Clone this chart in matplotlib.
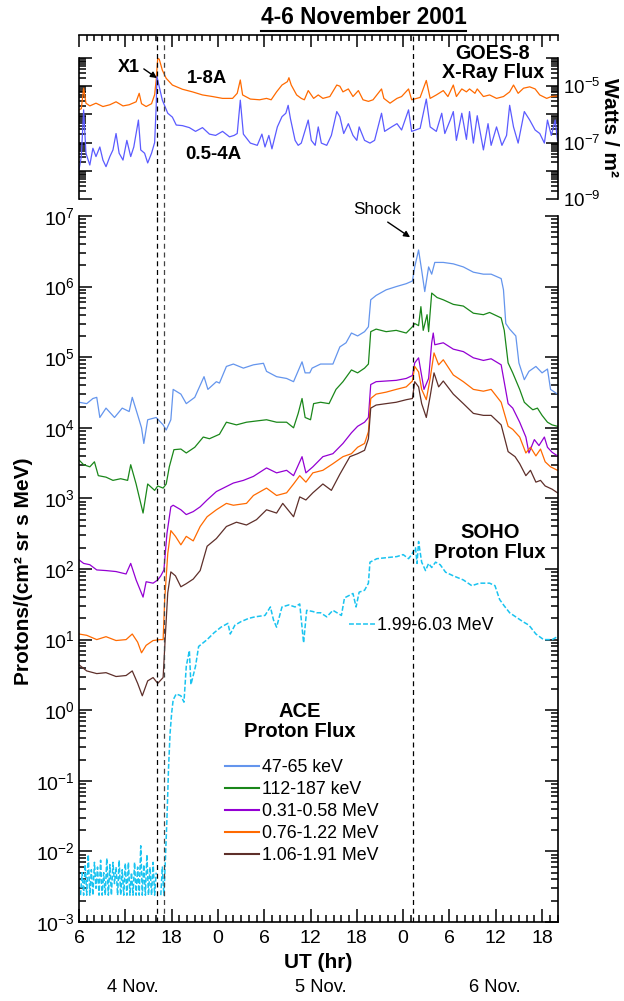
import numpy as np
import matplotlib
matplotlib.use("Agg")
import matplotlib.pyplot as plt
from matplotlib.ticker import FixedLocator, MultipleLocator, NullFormatter
from matplotlib.lines import Line2D

plt.rcParams['font.family'] = ['Liberation Sans', 'DejaVu Sans']
plt.rcParams['mathtext.default'] = 'regular'
plt.rcParams['axes.unicode_minus'] = False

# ---------------------------------------------------------------------------
# Time is in hours since 2001-11-04 00:00 UT
# ---------------------------------------------------------------------------
flare_times = [16.05, 17.0]     # X1 flare onset / peak
shock_time = 49.3               # shock arrival at ACE

# GOES-8 X-ray flux, 1-8 A channel (W/m^2)
goes_long_t = [6.0, 6.3, 6.6, 6.9, 7.4, 8.2, 9.1, 10.0, 10.8, 11.7, 12.5, 13.4, 13.8, 14.1,
               14.7, 15.4, 15.8, 16.0, 16.2, 16.4, 16.8, 17.3, 18.1, 19.4, 20.7, 22.0, 23.3,
               24.6, 25.9, 26.5, 26.9, 27.2, 28.2, 29.4, 30.3, 30.9, 31.6, 32.3, 33.0, 33.2,
               33.5, 34.2, 34.8, 35.2, 35.7, 36.4, 37.0, 37.6, 38.5, 39.4, 39.8, 40.2, 40.9,
               41.5, 42.2, 42.8, 43.5, 44.1, 45.2, 45.5, 46.3, 47.2, 47.8, 48.7, 49.1, 50.2,
               51.0, 51.5, 52.3, 53.2, 53.8, 54.5, 54.9, 55.6, 56.2, 56.6, 57.3, 57.6, 58.4,
               59.2, 60.1, 61.0, 61.8, 62.3, 62.9, 63.6, 64.4, 65.1, 65.7, 66.6, 67.2, 68.0]
goes_long = [1.45e-6, 1.6e-6, 8.5e-6, 2.5e-6, 2.0e-6, 2.5e-6, 1.9e-6, 2.2e-6, 2.8e-6, 2.0e-6,
             2.2e-6, 2.8e-6, 5.6e-6, 2.4e-6, 1.9e-6, 2.4e-6, 5.0e-6, 1.66e-5, 9.8e-5, 9.0e-5,
             3.7e-5, 1.9e-5, 1.1e-5, 7.8e-6, 6.3e-6, 4.9e-6, 4.3e-6, 3.7e-6, 3.7e-6, 5.6e-6,
             1.66e-5, 4.9e-6, 3.5e-6, 3.3e-6, 3.7e-6, 3.3e-6, 6.3e-6, 1.1e-5, 1.45e-5, 2.0e-5,
             1.1e-5, 4.9e-6, 3.7e-6, 3.3e-6, 7.0e-6, 3.7e-6, 4.9e-6, 3.7e-6, 4.3e-6, 1.1e-5,
             1.0e-5, 6.3e-6, 8.0e-6, 4.3e-6, 7.0e-6, 3.3e-6, 2.9e-6, 3.3e-6, 8.0e-6, 3.7e-6,
             2.5e-6, 3.7e-6, 4.3e-6, 8.0e-6, 3.3e-6, 4.0e-6, 1.6e-5, 3.7e-6, 4.9e-6, 7.0e-6,
             4.3e-6, 1.1e-5, 4.3e-6, 8.0e-6, 6.3e-6, 8.0e-6, 5.6e-6, 8.0e-6, 4.3e-6, 4.9e-6,
             3.7e-6, 4.3e-6, 6.3e-6, 1.1e-5, 5.6e-6, 8.5e-6, 9.5e-6, 8.0e-6, 4.9e-6, 3.7e-6,
             4.3e-6, 4.5e-6]

# GOES-8 X-ray flux, 0.5-4 A channel (W/m^2)
goes_short_t = [6.0, 6.3, 6.6, 6.9, 7.4, 7.8, 8.2, 8.7, 9.1, 9.5, 10.0, 10.4, 10.8, 11.2, 11.7,
                12.2, 12.7, 13.1, 13.7, 14.0, 14.5, 14.9, 15.4, 15.8, 16.0, 16.1, 16.4, 16.8,
                17.5, 18.1, 18.6, 19.4, 20.3, 21.1, 22.0, 22.9, 23.7, 24.6, 25.5, 26.1, 26.5,
                26.9, 27.3, 28.2, 29.1, 29.7, 30.1, 30.6, 31.0, 31.7, 32.3, 32.8, 33.1, 33.4,
                34.0, 34.4, 34.8, 35.7, 36.1, 36.6, 37.0, 37.4, 38.1, 38.7, 39.4, 39.8, 40.3,
                40.9, 41.5, 42.0, 42.3, 43.0, 43.7, 44.3, 45.2, 45.6, 46.5, 47.2, 47.8, 48.7,
                49.1, 50.2, 51.0, 51.5, 52.3, 53.0, 53.4, 54.1, 54.5, 54.9, 55.6, 56.2, 56.6,
                57.1, 57.6, 58.4, 59.0, 59.4, 60.1, 60.8, 61.4, 61.8, 62.3, 62.9, 63.7, 64.4,
                65.1, 65.7, 66.3, 66.7, 67.2, 67.7, 68.0]
goes_short = [1.07e-8, 3.2e-8, 1.45e-6, 4.2e-8, 1.6e-8, 6.3e-8, 3.2e-8, 7.0e-8, 2.4e-8, 1.4e-8,
              3.2e-8, 5.5e-8, 2.1e-7, 4.2e-8, 2.4e-8, 1.2e-7, 3.2e-8, 7.0e-8, 6.3e-7, 5.5e-8,
              4.2e-8, 1.9e-8, 4.2e-8, 1.0e-7, 1.9e-6, 2.2e-5, 9.5e-6, 3.2e-6, 1.1e-6, 8.0e-7,
              4.2e-7, 4.0e-7, 3.4e-7, 2.5e-7, 3.4e-7, 2.0e-7, 1.8e-7, 2.5e-7, 1.6e-7, 1.8e-7,
              2.1e-7, 3.2e-6, 2.0e-7, 9.6e-8, 8.0e-8, 2.0e-7, 7.0e-8, 1.8e-7, 6.0e-8, 3.6e-7,
              8.3e-7, 1.1e-6, 2.1e-6, 7.0e-7, 1.2e-7, 8.0e-8, 9.6e-8, 6.3e-7, 1.2e-7, 8.0e-8,
              3.6e-7, 9.6e-8, 8.0e-8, 1.8e-7, 1.26e-6, 8.3e-7, 2.1e-7, 4.7e-7, 1.8e-7, 1.2e-7,
              3.6e-7, 1.2e-7, 9.6e-8, 1.2e-7, 1.1e-6, 2.5e-7, 3.6e-7, 4.7e-7, 2.8e-7, 1.45e-6,
              2.5e-7, 3.2e-7, 3.5e-6, 3.6e-7, 2.5e-7, 1.1e-6, 2.1e-7, 6.3e-7, 1.26e-6, 1.2e-7,
              1.1e-6, 1.3e-7, 1.26e-6, 9.6e-8, 9.0e-7, 5.5e-8, 4.7e-7, 8.0e-8, 3.6e-7, 8.0e-8,
              1.8e-7, 2.1e-6, 3.6e-7, 9.6e-8, 1.26e-6, 6.3e-7, 2.8e-7, 2.1e-7, 9.6e-8, 6.3e-7,
              1.8e-7, 6.3e-7, 1.2e-7]

# ACE/EPAM proton channels, protons/(cm^2 sr s MeV)
p1_t = [6.0, 7.0, 7.8, 8.3, 8.7, 9.5, 10.6, 11.6, 12.5, 12.9, 13.7, 14.1, 14.4, 14.9, 16.0,
        16.9, 17.3, 17.9, 18.2, 19.2, 19.9, 21.0, 22.2, 22.7, 23.8, 24.2, 25.1, 26.0, 27.3,
        28.6, 29.9, 30.3, 31.6, 32.9, 33.8, 34.9, 35.3, 35.9, 36.2, 37.3, 38.9, 39.8, 40.6,
        41.3, 42.1, 43.0, 43.5, 43.8, 44.5, 45.8, 47.1, 48.4, 49.2, 49.5, 50.0, 50.4, 50.8,
        51.3, 51.7, 52.1, 53.2, 54.5, 55.8, 57.1, 58.4, 59.4, 60.7, 61.0, 61.3, 61.8, 62.6,
        63.0, 63.7, 64.3, 65.2, 66.0, 66.7, 67.1, 68.0]
p1_v = [2.3e4, 2.2e4, 2.6e4, 2.7e4, 1.4e4, 1.9e4, 1.4e4, 1.9e4, 1.7e4, 2.7e4, 1.4e4, 1.0e4,
        6.0e3, 1.3e4, 1.4e4, 1.1e4, 9.3e3, 1.3e4, 3.5e4, 3.0e4, 2.2e4, 2.7e4, 5.3e4, 3.5e4,
        4.5e4, 4.3e4, 7.4e4, 8.0e4, 7.0e4, 7.8e4, 8.2e4, 6.3e4, 5.3e4, 5.0e4, 4.5e4, 8.6e4,
        6.0e4, 6.0e4, 7.0e4, 8.0e4, 8.0e4, 1.4e5, 1.6e5, 2.2e5, 2.0e5, 2.3e5, 2.7e5, 6.5e5,
        7.5e5, 9.0e5, 1.0e6, 1.1e6, 1.2e6, 1.9e6, 3.3e6, 1.7e6, 8.5e5, 1.9e6, 1.5e6, 2.2e6,
        2.2e6, 2.1e6, 1.9e6, 1.6e6, 1.5e6, 1.5e6, 1.3e6, 9.0e5, 3.0e5, 2.5e5, 2.0e5, 8.3e4,
        4.8e4, 6.3e4, 7.4e4, 6.0e4, 6.8e4, 3.5e4, 3.0e4]

p2_t = [6.0, 6.6, 7.4, 8.0, 8.5, 9.5, 10.4, 11.4, 12.3, 12.7, 13.4, 13.8, 14.3, 14.9, 15.8,
        16.2, 16.9, 17.3, 17.7, 18.3, 19.2, 19.9, 21.0, 22.1, 22.9, 24.2, 25.1, 26.4, 27.7,
        29.0, 30.3, 31.6, 32.9, 33.8, 34.4, 34.9, 35.3, 36.0, 36.4, 37.3, 38.4, 39.3, 40.2,
        41.3, 42.1, 43.0, 43.5, 43.8, 44.5, 45.8, 47.1, 48.4, 49.2, 49.5, 50.0, 50.3, 50.6,
        51.1, 51.3, 51.7, 52.4, 53.2, 54.5, 55.8, 57.1, 58.4, 59.2, 60.7, 61.1, 61.6, 62.2,
        63.1, 63.7, 64.3, 64.8, 65.4, 66.0, 66.7, 67.3, 68.0]
p2_v = [3.5e3, 3.0e3, 2.8e3, 3.3e3, 2.1e3, 2.0e3, 1.8e3, 1.9e3, 1.8e3, 3.0e3, 1.6e3, 1.05e3,
        6.2e2, 1.6e3, 1.3e3, 1.5e3, 1.4e3, 1.6e3, 2.8e3, 4.9e3, 5.0e3, 4.4e3, 5.3e3, 7.4e3,
        7.0e3, 8.1e3, 1.2e4, 1.1e4, 1.2e4, 1.25e4, 1.3e4, 1.2e4, 1.2e4, 1.0e4, 1.6e4, 2.6e4,
        1.4e4, 1.3e4, 2.2e4, 2.3e4, 2.2e4, 3.5e4, 4.5e4, 6.6e4, 6.0e4, 7.0e4, 8.0e4, 2.3e5,
        2.5e5, 2.3e5, 2.4e5, 2.2e5, 2.7e5, 3.0e5, 2.8e5, 5.2e5, 2.4e5, 4.0e5, 2.3e5, 8.1e5,
        7.0e5, 6.5e5, 5.6e5, 5.3e5, 4.2e5, 4.0e5, 4.3e5, 3.6e5, 2.4e5, 8.3e4, 6.0e4, 3.5e4,
        2.3e4, 2.0e4, 1.8e4, 1.9e4, 1.5e4, 1.2e4, 1.1e4, 1.05e4]

p3_t = [6.0, 6.6, 7.4, 8.3, 9.5, 10.8, 12.1, 12.7, 13.4, 14.3, 14.7, 15.6, 16.2, 16.6, 17.0,
        17.4, 17.9, 18.2, 19.2, 19.9, 20.8, 21.7, 22.6, 23.8, 26.0, 27.3, 28.6, 30.3, 31.6,
        32.9, 33.8, 34.9, 35.4, 36.3, 37.6, 38.9, 40.2, 41.3, 42.1, 43.0, 43.5, 43.8, 44.5,
        45.8, 47.1, 48.4, 49.2, 49.5, 50.0, 50.3, 50.7, 51.3, 51.7, 51.9, 52.1, 53.2, 54.5,
        55.8, 57.1, 58.4, 59.4, 60.7, 61.6, 62.2, 63.1, 63.9, 64.3, 65.0, 65.6, 66.3, 66.7,
        67.3, 68.0]
p3_v = [135, 120, 115, 97, 95, 92, 85, 120, 70, 40, 66, 63, 70, 80, 97, 320, 760, 800, 690,
        590, 650, 760, 950, 1.25e3, 1.65e3, 1.8e3, 2.05e3, 2.7e3, 2.3e3, 2.5e3, 2.1e3, 3.9e3,
        2.3e3, 2.8e3, 3.9e3, 4.3e3, 6.0e3, 8.5e3, 1.05e4, 1.2e4, 1.4e4, 4.1e4, 4.5e4, 4.6e4,
        4.7e4, 5.0e4, 5.5e4, 8.3e4, 9.8e4, 6.3e4, 3.5e4, 5.0e4, 1.6e5, 2.2e5, 1.5e5, 1.6e5,
        1.3e5, 1.2e5, 9.8e4, 9.0e4, 9.5e4, 7.8e4, 2.2e4, 1.9e4, 1.2e4, 7.4e3, 4.4e3, 6.8e3,
        5.6e3, 7.4e3, 5.3e3, 4.5e3, 4.0e3]

p4_t = [6.0, 7.0, 8.3, 9.5, 10.8, 12.1, 12.9, 13.6, 14.1, 14.7, 15.6, 16.5, 16.9, 17.1, 17.5,
        17.9, 18.5, 19.2, 19.9, 20.8, 21.7, 22.6, 23.8, 25.1, 26.0, 27.7, 28.6, 30.3, 31.6,
        32.9, 33.8, 34.6, 35.4, 36.3, 37.6, 38.9, 40.2, 41.3, 42.1, 43.0, 43.5, 43.8, 44.5,
        45.8, 47.1, 48.4, 49.2, 49.5, 50.0, 50.4, 51.0, 51.5, 52.0, 52.6, 53.2, 54.5, 55.8,
        57.1, 58.4, 59.4, 60.7, 61.6, 62.2, 63.1, 63.9, 64.5, 65.2, 65.8, 66.4, 67.1, 68.0]
p4_v = [12, 11.5, 10, 11, 9.7, 10, 12, 9.2, 6.5, 8.3, 9.7, 10, 10, 36, 165, 350, 290, 220,
        290, 250, 400, 550, 690, 850, 800, 850, 1.1e3, 1.4e3, 1.1e3, 1.2e3, 1.6e3, 2.1e3,
        1.7e3, 2.3e3, 2.5e3, 3.1e3, 3.9e3, 4.3e3, 5.3e3, 6.0e3, 8.8e3, 2.6e4, 3.0e4, 3.2e4,
        3.5e4, 3.8e4, 4.6e4, 7.4e4, 6.2e4, 3.5e4, 2.5e4, 5.0e4, 1.15e5, 7.8e4, 9.2e4, 5.6e4,
        4.5e4, 3.5e4, 3.3e4, 3.5e4, 2.3e4, 1.05e4, 9.5e3, 7.4e3, 4.4e3, 5.3e3, 4.0e3, 5.0e3,
        3.3e3, 2.8e3, 2.5e3]

p5_t = [6.0, 7.0, 8.3, 9.5, 10.8, 12.1, 12.9, 13.6, 14.2, 14.9, 15.6, 16.2, 16.9, 17.2, 17.5,
        17.9, 18.5, 19.2, 19.9, 20.8, 21.7, 22.6, 23.8, 25.1, 26.4, 27.7, 29.0, 30.3, 31.6,
        32.4, 33.8, 34.6, 35.4, 36.3, 37.6, 38.7, 39.8, 41.1, 42.1, 43.0, 43.5, 43.8, 44.5,
        45.8, 47.1, 48.4, 49.2, 49.5, 50.0, 50.4, 51.0, 51.5, 52.0, 52.6, 53.2, 54.5, 55.8,
        57.1, 58.4, 59.4, 60.7, 61.6, 62.5, 63.1, 63.9, 64.5, 65.2, 65.8, 66.4, 67.3, 68.0]
p5_v = [4.4, 3.6, 3.3, 3.4, 3.0, 3.1, 3.6, 2.4, 1.6, 2.6, 2.9, 2.4, 2.9, 12, 46, 91, 80, 56,
        62, 72, 95, 210, 270, 400, 460, 420, 500, 690, 620, 850, 550, 1.05e3, 950, 1.2e3,
        1.6e3, 1.3e3, 2.2e3, 3.9e3, 4.3e3, 4.8e3, 7.0e3, 1.9e4, 2.1e4, 2.2e4, 2.3e4, 2.5e4,
        2.6e4, 4.5e4, 3.8e4, 2.2e4, 1.4e4, 2.8e4, 6.0e4, 3.8e4, 4.6e4, 3.0e4, 2.2e4, 1.6e4,
        1.5e4, 1.5e4, 1.1e4, 4.6e3, 3.9e3, 3.1e3, 2.1e3, 2.5e3, 1.7e3, 1.8e3, 1.5e3, 1.35e3,
        1.2e3]

# SOHO/ERNE proton channel 1.99-6.03 MeV (nan marks a data gap)
soho_t = [6.2, 6.4, 6.6, 6.8, 7.0, 7.2, 7.4, 7.6, 7.8, 8.0, 8.2, 8.4, 8.6, 8.8, 9.0, 9.2, 9.4,
          9.6, 9.8, 10.0, 10.2, 10.4, 10.6, 10.8, 11.0, 11.2, 11.4, 11.6, 11.8, 12.0, 12.2,
          12.4, 12.6, 12.8, 13.0, 13.2, 13.4, 13.6, 13.8, 14.0, 14.2, 14.4, 14.6, 14.8, 15.0,
          15.2, 15.4, 15.6, 15.8, 16.0, 16.3, 16.6, 16.8, 17.0, 17.2, 17.4, 17.6, 17.8, 18.0,
          18.2, 18.6, 19.2, 19.6, 19.9, 20.3, 20.5, 21.1, 21.5, 22.6, 23.5, 24.4, 25.3, 25.6,
          26.2, 27.0, 28.0, 28.8, 30.1, 30.8, 31.2, 31.6, 32.3, 33.2, 34.0, 34.6, 35.1, 35.5,
          36.3, 36.8, 37.3, 38.1, 38.9, 40.0, 40.4, 41.5, 41.9, 42.3, 43.0, 43.5, 43.7, 44.6,
          45.9, 47.2, 48.0, 48.7, 49.1, 49.6, 49.8, 50.0, 50.4, 50.9, 51.3, 51.7, 52.2, 52.8,
          53.5, 54.5, 55.8, 56.9, 57.9, 59.2, 59.9, 60.5, 61.1, 61.8, 62.6, 63.5, 64.3, 65.2,
          66.2, 67.3, 68.0]
soho_v = [2.4e-3, 5.0e-3, 2.4e-3, 6.5e-3, 2.4e-3, 9.0e-3, 2.4e-3, 5.5e-3, 2.4e-3, 7.0e-3,
          3.0e-3, 6.0e-3, 2.4e-3, 7.5e-3, 2.4e-3, 5.0e-3, 2.4e-3, 8.0e-3, 2.4e-3, 6.5e-3,
          2.4e-3, 7.0e-3, 3.5e-3, 6.0e-3, 2.4e-3, 7.5e-3, 2.4e-3, 5.5e-3, 2.4e-3, 6.8e-3,
          2.4e-3, 7.0e-3, 2.4e-3, 5.0e-3, 2.4e-3, 7.0e-3, 2.4e-3, 6.0e-3, 2.4e-3, 1.2e-2,
          2.4e-3, 6.5e-3, 2.4e-3, 9.0e-3, 2.4e-3, 6.0e-3, 2.4e-3, 7.0e-3, 2.4e-3, 5.0e-3,
          np.nan, 2.4e-3, 6.0e-3, 2.4e-3, 8.0e-3, 3.0e-2, 0.15, 0.47, 0.9,
          1.4, 1.7, 1.6, 1.3, 4.2, 7.0, 2.3, 4.2, 8.0, 10, 12.5, 15, 17, 12,
          16, 18, 20, 21, 22, 29, 19, 15, 29, 31, 29, 32, 9, 26,
          25, 24, 24, 21, 26, 22, 39, 45, 29, 47, 50, 63, 125, 140,
          145, 150, 160, 140, 160, 200, 120, 245, 125, 95, 120, 105, 125, 115,
          90, 80, 70, 58, 63, 63, 58, 37, 30, 24, 21, 18, 16, 12,
          10, 10, 11]

ace_labels = ['47-65 keV', '112-187 keV', '0.31-0.58 MeV', '0.76-1.22 MeV', '1.06-1.91 MeV']
ace_colors = ['#6495ed', '#1a871a', '#9400d3', '#ff6a00', '#5e2f2a']
soho_label = '1.99-6.03 MeV'
soho_color = '#19c3f0'
goes_colors = ['#ff6a00', '#5b5bff']

day_labels = ['4 Nov.', '5 Nov.', '6 Nov.']
day_label_pos = [13.0, 37.3, 59.9]
hour_ticks = list(range(6, 69, 6))
hour_labels = [str(h % 24) for h in hour_ticks]

# ---------------------------------------------------------------------------
W, H = 624, 1001
fig = plt.figure(figsize=(W / 100, H / 100), dpi=100)


def fx(px):
    return px / W


def fy(py):
    return 1 - py / H


XL, XR = 79, 557.5
ax_top = fig.add_axes([fx(XL), fy(216), fx(XR) - fx(XL), fy(35) - fy(216)])
ax = fig.add_axes([fx(XL), fy(922), fx(XR) - fx(XL), fy(216) - fy(922)])

tick_kw = dict(direction='in', colors='black', width=1.1)

# ---------------- GOES panel ----------------
ax_top.plot(goes_long_t, goes_long, color=goes_colors[0], lw=0.9)
ax_top.plot(goes_short_t, goes_short, color=goes_colors[1], lw=0.9)
ax_top.set_yscale('log')
ax_top.set_xlim(6, 68)
ax_top.set_ylim(10 ** -9.603, 10 ** -3.184)
ax_top.spines['bottom'].set_visible(False)
for s in ['left', 'right']:
    ax_top.spines[s].set_bounds(1e-9, 1e-4)
for s in ax_top.spines.values():
    s.set_linewidth(1.2)
decades = [10.0 ** e for e in range(-9, -3)]
minors = [m * 10.0 ** e for e in range(-9, -4) for m in range(2, 10)]
ax_top.yaxis.set_major_locator(FixedLocator(decades))
ax_top.yaxis.set_minor_locator(FixedLocator(minors))
ax_top.yaxis.set_minor_formatter(NullFormatter())
ax_top.set_yticklabels([r'$\mathdefault{10^{-9}}$', '', r'$\mathdefault{10^{-7}}$', '',
                        r'$\mathdefault{10^{-5}}$', ''])
ax_top.tick_params(axis='y', which='both', left=True, right=True, labelleft=False,
                   labelright=True, labelsize=13.5, pad=4, **tick_kw)
ax_top.tick_params(axis='y', which='major', length=9)
ax_top.tick_params(axis='y', which='minor', length=5)
ax_top.xaxis.set_major_locator(MultipleLocator(6))
ax_top.xaxis.set_minor_locator(MultipleLocator(1))
ax_top.tick_params(axis='x', which='both', top=True, bottom=False, labeltop=False,
                   labelbottom=False, **tick_kw)
ax_top.tick_params(axis='x', which='major', length=8.5)
ax_top.tick_params(axis='x', which='minor', length=4.5)
ax_top.patch.set_visible(False)

# ---------------- ACE / SOHO panel ----------------
ace_series = [(p1_t, p1_v), (p2_t, p2_v), (p3_t, p3_v), (p4_t, p4_v), (p5_t, p5_v)]
ace_lines = []
for (t, v), c, lab in zip(ace_series, ace_colors, ace_labels):
    ln, = ax.plot(t, v, color=c, lw=0.9, label=lab)
    ace_lines.append(ln)
soho_line, = ax.plot(soho_t, soho_v, color=soho_color, lw=1.1, dashes=(3.2, 1.4),
                     label=soho_label)

ax.set_yscale('log')
ax.set_xlim(6, 68)
ax.set_ylim(1e-3, 1e7)
ax.spines['top'].set_visible(False)
for s in ax.spines.values():
    s.set_linewidth(1.2)
ax.yaxis.set_major_locator(FixedLocator([10.0 ** e for e in range(-3, 8)]))
ax.yaxis.set_minor_locator(FixedLocator([m * 10.0 ** e for e in range(-3, 7) for m in range(2, 10)]))
ax.yaxis.set_minor_formatter(NullFormatter())
ax.set_yticklabels([r'$\mathdefault{10^{%d}}$' % e for e in range(-3, 8)])
ax.tick_params(axis='y', which='both', left=True, right=True, labelsize=14, pad=3, **tick_kw)
ax.tick_params(axis='y', which='major', length=9.5)
ax.tick_params(axis='y', which='minor', length=5)
ax.set_xticks(hour_ticks)
ax.set_xticklabels(hour_labels)
ax.xaxis.set_minor_locator(MultipleLocator(1))
ax.tick_params(axis='x', which='both', top=False, bottom=True, labelsize=14, pad=6, **tick_kw)
ax.tick_params(axis='x', which='major', length=9.5)
ax.tick_params(axis='x', which='minor', length=5)

# event markers across both panels
for a in (ax, ax_top):
    a.axvline(flare_times[0], color='black', lw=0.9, dashes=(4, 3))
    a.axvline(flare_times[1], color='#444444', lw=0.9, dashes=(4, 3))
    a.axvline(shock_time, color='black', lw=0.9, dashes=(4, 3))

# legends
leg = ax.legend(handles=ace_lines, loc='upper left', bbox_to_anchor=(fx(225), fy(759)),
                bbox_transform=fig.transFigure, frameon=False, fontsize=12.8,
                handlelength=1.9, handletextpad=0.2, labelspacing=0.28, borderpad=0,
                borderaxespad=0)
for l in leg.get_lines():
    l.set_linewidth(1.5)
ax.add_artist(leg)
leg2 = ax.legend(handles=[soho_line], loc='center left', bbox_to_anchor=(fx(349), fy(626)),
                 bbox_transform=fig.transFigure, frameon=False, fontsize=12.8,
                 handlelength=1.5, handletextpad=0.1, borderpad=0, borderaxespad=0)

# annotations
bold = dict(fontweight='bold', ha='center', va='center')
fig.text(fx(493), fy(63), 'GOES-8\nX-Ray Flux', fontsize=14.2, linespacing=1.05, **bold)
fig.text(fx(128.5), fy(67.5), 'X1', fontsize=13, **bold)
fig.text(fx(207), fy(78.5), '1-8A', fontsize=13.3, **bold)
fig.text(fx(213), fy(154.5), '0.5-4A', fontsize=13.5, **bold)
fig.text(fx(490), fy(542.5), 'SOHO\nProton Flux', fontsize=14.5, linespacing=1.05, **bold)
fig.text(fx(300), fy(721.5), 'ACE\nProton Flux', fontsize=14.5, linespacing=1.05, **bold)
fig.text(fx(377), fy(209), 'Shock', fontsize=12.3, ha='center', va='center')

arrow = dict(arrowstyle='-|>', color='black', lw=1.0, mutation_scale=9,
             shrinkA=0, shrinkB=0)
ax_top.annotate('', xy=(16.1, 1.95e-5), xytext=(14.4, 4.1e-5), arrowprops=arrow,
                annotation_clip=False)
ax.annotate('', xy=(48.9, 5.0e6), xytext=(46.0, 8.2e6), arrowprops=arrow,
            annotation_clip=False)

# axis labels
fig.text(fx(23.5), fy(571), 'Protons/(cm² sr s MeV)', rotation=90, fontsize=15, **bold)
fig.text(fx(609), fy(128), 'Watts / m²', rotation=270, fontsize=15, **bold)
fig.text(fx(318), fy(962), 'UT (hr)', fontsize=15, **bold)
for lab, pos in zip(day_labels, day_label_pos):
    ax.text(pos, -(988 - 922) / (922 - 216), lab, transform=ax.get_xaxis_transform(),
            fontsize=13.2, ha='center', va='center')

# title with underline
title = fig.text(fx(363.5), fy(17.5), '4-6 November 2001', fontsize=16.3, **bold)
fig.canvas.draw()
bb = title.get_window_extent(fig.canvas.get_renderer())
uy = (bb.y0 - 1.5) / H
fig.add_artist(Line2D([bb.x0 / W, bb.x1 / W], [uy, uy], transform=fig.transFigure,
                      color='black', lw=1.5))

fig.savefig('out.png', dpi=100)
